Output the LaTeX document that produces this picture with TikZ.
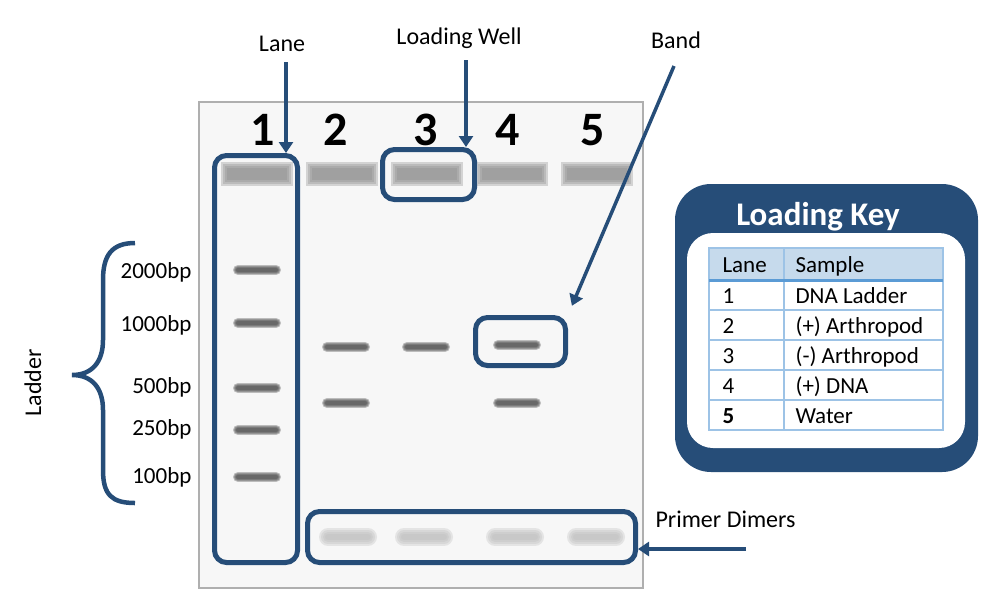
\documentclass[tikz,border=0pt]{standalone}
\usepackage{fontspec}
\setmainfont{Carlito}
\usetikzlibrary{positioning,arrows.meta}

\definecolor{azulgel}{RGB}{38,77,120}
\definecolor{azulclaro}{RGB}{198,218,236}
\definecolor{lineatabla}{RGB}{157,195,230}
\definecolor{lineacab}{RGB}{91,155,213}
\definecolor{fondogel}{RGB}{247,247,247}
\definecolor{bordegel}{RGB}{175,175,175}
\definecolor{gbanda}{RGB}{70,70,70}
\definecolor{gpozo}{RGB}{140,140,140}
\definecolor{gdimero}{RGB}{190,190,190}

\begin{document}
\begin{tikzpicture}[x=1pt, y=-1pt,
    lbl/.style={font=\fontsize{24}{28}\selectfont},
    tam/.style={font=\fontsize{23}{27}\selectfont},
    num/.style={font=\fontsize{48}{52}\selectfont\bfseries},
    caja/.style={draw=azulgel, line width=5pt, rounded corners=12pt, inner sep=0pt},
    flecha/.style={draw=azulgel, line width=3.5pt, -{Triangle[length=11pt,width=14pt]}},
    capa/.style={line cap=round, opacity=0.33},
    rejilla/.style={draw=lineatabla, line width=1.5pt}]
    \useasboundingbox (0,0) rectangle (1000,598);

    % Fondo del gel
    \draw[fill=fondogel, draw=bordegel, line width=1.5pt] (199,102) rectangle (643,588);

    % Pozos de carga (difuminados por capas)
    \foreach \c in {257,342,427,512,597}
        \foreach \w in {24,20,16,12}
            \draw[capa, line cap=rect, gpozo, line width=\w pt] (\c-24,174) -- (\c+24,174);

    % Dimeros de cebador
    \foreach \c in {348,424,515,596}
        \foreach \w in {18,14,10,6}
            \draw[capa, gdimero, line width=\w pt] (\c-20,537) -- (\c+20,537);

    % Bandas (carril / altura)
    \foreach \c/\y in {257/270, 257/323, 257/388, 257/430, 257/477,
                       346/347, 346/403, 426/347, 517/345, 517/403}
        \foreach \w in {10,8,6,4}
            \draw[capa, gbanda, line width=\w pt] (\c-19,\y) -- (\c+19,\y);

    % Numeros de carril
    \foreach \n/\c in {1/263, 2/336, 3/426, 4/508, 5/593}
        \node[num] (n\n) at (\c,130) {\n};

    % Cajas resaltadas
    \node[caja, minimum width=83pt, minimum height=407pt] (carril) at (256,359) {};
    \node[caja, minimum width=92pt, minimum height=50pt] (pozo3) at (428.5,174.5) {};
    \node[caja, minimum width=90pt, minimum height=48pt] (bandabox) at (520.5,341.5) {};
    \node[caja, minimum width=328pt, minimum height=51pt] (dimeros) at (471.5,537) {};

    % Etiquetas y flechas
    \node[lbl] (laneLbl) at (282,44) {Lane};
    \node[lbl] (pozoLbl) at (459,38) {Loading Well};
    \node[lbl] (bandaLbl) at (676,40) {Band};
    \node[lbl, anchor=west] (dimLbl) at (652,519) {Primer Dimers};

    \coordinate (laneCola) at (286,62);
    \coordinate (pozoCola) at (466,60);
    \coordinate (bandaCola) at (674,66);
    \coordinate (dimCola) at (746,549);
    \draw[flecha] (laneCola) -- (laneCola |- carril.north);
    \draw[flecha] (pozoCola) -- (pozoCola |- pozo3.north);
    \draw[flecha, shorten >=10pt] (bandaCola) -- (bandabox.north east);
    \draw[flecha] (dimCola) -- (dimCola -| dimeros.east);

    % Escalera de tamanos
    \draw[azulgel, line width=4.5pt] (135,243) .. controls (112,243) and (103,255) .. (103,280)
        -- (103,340) .. controls (103,362) and (92,375) .. (72,375)
        .. controls (92,375) and (103,388) .. (103,410)
        -- (103,470) .. controls (103,495) and (112,503) .. (135,503);
    \node[lbl, rotate=90] (ladder) at (33,383) {Ladder};
    \foreach \t/\y in {2000bp/272, 1000bp/325, 500bp/387, 250bp/429, 100bp/477}
        \node[tam, anchor=east] (m\t) at (195,\y) {\t};

    % Clave de carga
    \node[fill=azulgel, rounded corners=36pt, minimum width=303pt, minimum height=288pt] (clave) at (826.5,328) {};
    \node[fill=white, rounded corners=26pt, minimum width=278pt, minimum height=215pt] (claveIn) at (826,340.5) {};
    \node[font=\fontsize{33}{36}\selectfont\bfseries, text=white, anchor=base] (titulo) at (818,225) {Loading Key};

    \fill[azulclaro] (709,248) rectangle (943,280);
    \draw[rejilla] (709,248) rectangle (943,430);
    \draw[rejilla] (784,248) -- (784,430);
    \foreach \yy in {310,340,370,400}
        \draw[rejilla] (709,\yy) -- (943,\yy);
    \draw[lineacab, line width=3pt] (709,280) -- (943,280);

    \node[tam, anchor=base west] (hLane) at (719,272) {Lane};
    \node[tam, anchor=base west] (hSample) at (792,272) {Sample};
    \foreach \n/\s [count=\r] in {1/DNA Ladder, 2/{(+) Arthropod}, 3/{(-) Arthropod}, 4/{(+) DNA}, \textbf{5}/Water} {
        \node[tam, anchor=base west] (k\r) at (719,273+30*\r) {\n};
        \node[tam, anchor=base west] (s\r) at (792,273+30*\r) {\s};
    }
\end{tikzpicture}
\end{document}
